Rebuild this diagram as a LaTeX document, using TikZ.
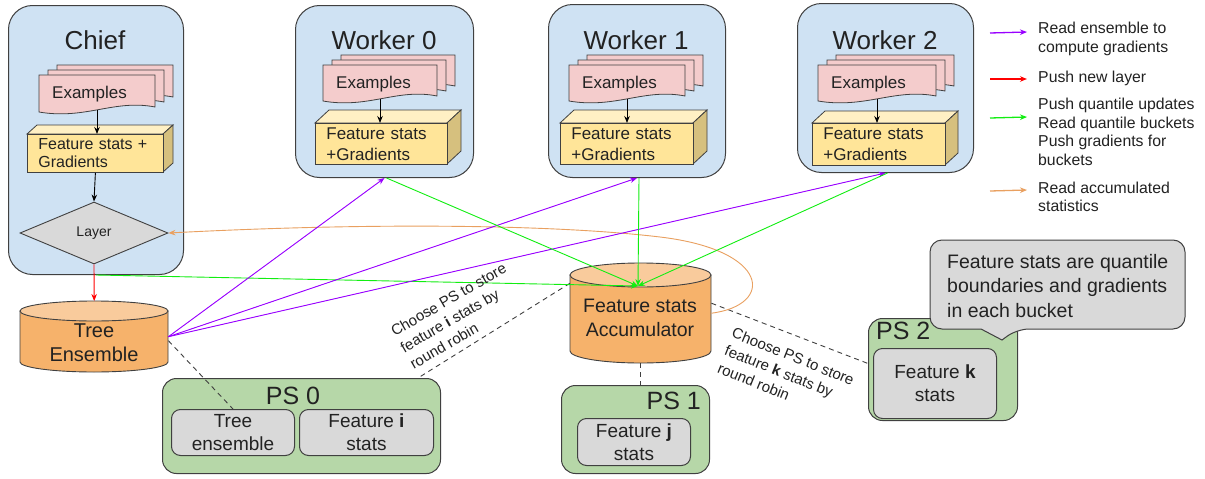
\documentclass[tikz,border=0pt]{standalone}
\usepackage{fontspec}
\setmainfont{Liberation Sans}
\usetikzlibrary{arrows.meta,calc,shapes.geometric}

\definecolor{boxblue}{HTML}{CFE2F3}
\definecolor{docpink}{HTML}{F4CCCC}
\definecolor{cubfrontc}{HTML}{FFE599}
\definecolor{cubtopc}{HTML}{FFF0C4}
\definecolor{cubsidec}{HTML}{D6C07E}
\definecolor{lgray}{HTML}{D9D9D9}
\definecolor{cylbodyc}{HTML}{F6B26B}
\definecolor{cyltopc}{HTML}{F9CB9C}
\definecolor{psgreen}{HTML}{B6D7A8}
\definecolor{edgegray}{HTML}{404040}
\definecolor{purp}{HTML}{9900FF}
\definecolor{redc}{HTML}{FF0000}
\definecolor{grn}{HTML}{11EE11}
\definecolor{orng}{HTML}{E9A060}
\definecolor{txt}{HTML}{222222}

\tikzset{
  bluebox/.style={draw=edgegray, line width=1pt, fill=boxblue, rounded corners=24pt, anchor=north west, inner sep=0pt},
  greenbox/.style={draw=edgegray, line width=1pt, fill=psgreen, rounded corners=14pt, anchor=north west, inner sep=0pt},
  graybox/.style={draw=edgegray, line width=1pt, fill=lgray, rounded corners=9pt, anchor=north west, inner sep=0pt, align=center, font=\fontsize{19}{23}\selectfont, text=txt},
  titlest/.style={font=\fontsize{26}{30}\selectfont, text=txt, inner sep=0pt},
  pstitle/.style={font=\fontsize{25}{28}\selectfont, text=txt, inner sep=0pt},
  docst/.style={draw=edgegray, line width=0.8pt, fill=docpink},
  doctext/.style={font=\fontsize{17}{20}\selectfont, text=txt, inner sep=0pt},
  cubtopst/.style={draw=edgegray, line width=0.8pt, fill=cubtopc},
  cubsidest/.style={draw=edgegray, line width=0.8pt, fill=cubsidec},
  cubfrontst/.style={draw=edgegray, line width=0.8pt, fill=cubfrontc, anchor=north west, inner xsep=11pt, inner ysep=0pt, align=left, text=txt},
  cylbodyst/.style={draw=edgegray, line width=0.9pt, fill=cylbodyc},
  cyltopst/.style={draw=edgegray, line width=0.9pt, fill=cyltopc},
  bigtext/.style={font=\fontsize{20}{24}\selectfont, text=txt, align=center, inner sep=0pt},
  lbl/.style={font=\fontsize{15}{19}\selectfont, text=txt, align=left, inner sep=0pt},
  legtext/.style={font=\fontsize{15.8}{18.6}\selectfont, text=txt, align=left, inner sep=0pt, anchor=west},
  arr/.style={-{Stealth[length=7pt,width=5.5pt]}, line width=0.9pt},
  blkarr/.style={arr, draw=black},
  purparr/.style={arr, draw=purp, fill=purp},
  redarr/.style={arr, draw=redc},
  grnarr/.style={arr, draw=grn},
  orngarr/.style={arr, draw=orng},
  legline/.style={line width=1.3pt},
  dashline/.style={draw=edgegray, line width=0.9pt, dash pattern=on 5pt off 4pt},
}

\newcommand{\onedoc}[4]{%
  \filldraw[docst] (#1,#2) -- (#1+#3,#2) -- (#1+#3,#2+#4-5) .. controls (#1+0.65*#3,#2+#4-13) and (#1+0.4*#3,#2+#4+8) .. (#1,#2+#4) -- cycle;}
\newcommand{\docstack}[5]{%
  \onedoc{#2+18}{#3-10}{#4}{#5}
  \onedoc{#2+9}{#3-5}{#4}{#5}
  \onedoc{#2}{#3}{#4}{#5}
  \node[doctext, anchor=west] (#1) at (#2+13,#3+#5/2+1) {Examples};
  \coordinate (#1b) at (#2+#4/2,#3+#5-2);}
\newcommand{\cuboid}[9]{%
  \filldraw[cubtopst] (#2,#3) -- (#2+#6,#3-#7) -- (#2+#4+#6,#3-#7) -- (#2+#4,#3) -- cycle;
  \filldraw[cubsidest] (#2+#4,#3) -- (#2+#4+#6,#3-#7) -- (#2+#4+#6,#3+#5-#7) -- (#2+#4,#3+#5) -- cycle;
  \pgfmathsetmacro\cubtw{#4-22}
  \node[cubfrontst, font={#8}, minimum width=#4pt, minimum height=#5pt, text width=\cubtw pt] (#1) at (#2,#3) {#9};}
\newcommand{\cyl}[5]{%
  \pgfmathsetmacro\cylcx{(#1+#3)/2}
  \pgfmathsetmacro\cylrx{(#3-#1)/2}
  \pgfmathsetmacro\cylct{#2+#5}
  \pgfmathsetmacro\cylcb{#4-#5}
  \filldraw[cylbodyst] (#1,\cylct) -- (#1,\cylcb) .. controls (#1,\cylcb+0.5523*#5) and (\cylcx-0.5523*\cylrx,#4) .. (\cylcx,#4) .. controls (\cylcx+0.5523*\cylrx,#4) and (#3,\cylcb+0.5523*#5) .. (#3,\cylcb) -- (#3,\cylct) -- cycle;
  \filldraw[cyltopst] (\cylcx,\cylct) ellipse [x radius=\cylrx pt, y radius=#5pt];}

\begin{document}
\begin{tikzpicture}[x=1pt,y=-1pt]
\fill[white] (0,0) rectangle (1205,479);
\useasboundingbox (0,0) rectangle (1205,479);

% ---------- Chief ----------
\node[bluebox, minimum width=175pt, minimum height=269pt] (chief) at (8,5) {};
\node[titlest] (chieft) at (95,40) {Chief};
\docstack{ex0}{39}{75}{116}{37}
\cuboid{cub0}{27}{134}{136}{38}{10}{9}{\fontsize{16}{18}\selectfont}{Feature stats +\\Gradients}
\node[diamond, draw=edgegray, fill=lgray, line width=0.9pt, minimum width=148pt, minimum height=62pt, inner sep=0pt, aspect=2.4, font=\fontsize{14}{16}\selectfont, text=txt] (layer) at (94,233) {Layer};

% ---------- Workers ----------
\node[bluebox, minimum width=178pt, minimum height=172pt] (w0) at (295,5) {};
\node[titlest] (w0t) at (384,40) {Worker 0};
\docstack{ex1}{323}{65}{114}{36}
\cuboid{cub1}{315}{123}{132}{41}{14}{13}{\fontsize{17}{21}\selectfont}{Feature stats\\+Gradients}

\node[bluebox, minimum width=177pt, minimum height=173pt] (w1) at (548,4) {};
\node[titlest] (w1t) at (636,40) {Worker 1};
\docstack{ex2}{569}{65}{116}{36}
\cuboid{cub2}{560}{123}{133}{41}{14}{13}{\fontsize{17}{21}\selectfont}{Feature stats\\+Gradients}

\node[bluebox, minimum width=176pt, minimum height=169pt] (w2) at (797,3) {};
\node[titlest] (w2t) at (885,40) {Worker 2};
\docstack{ex3}{818}{65}{118}{36}
\cuboid{cub3}{812}{123}{133}{42}{13}{12}{\fontsize{17}{21}\selectfont}{Feature stats\\+Gradients}

% ---------- Cylinders ----------
\node[anchor=north west, minimum width=148pt, minimum height=71pt, inner sep=0pt] (tree) at (20,301) {};
\cyl{20}{301}{168}{372}{10}
\node[bigtext] (treet) at (94,343) {Tree\\Ensemble};

\node[anchor=north west, minimum width=141pt, minimum height=100pt, inner sep=0pt] (acc) at (570,263) {};
\cyl{570}{263}{711}{363}{12}
\node[bigtext, font=\fontsize{19.5}{23.5}\selectfont] (acct) at (640,318) {Feature stats\\Accumulator};
\coordinate (acci) at (638,286);

% ---------- PS boxes ----------
\node[greenbox, minimum width=278pt, minimum height=95pt] (ps0) at (162,378) {};
\node[pstitle] (ps0t) at (293,396) {PS 0};
\node[graybox, minimum width=123pt, minimum height=46pt] (tein) at (171,409) {Tree\\ensemble};
\node[graybox, minimum width=134pt, minimum height=46pt] (fi) at (299,409) {Feature \textbf{i}\\stats};

\node[greenbox, minimum width=148pt, minimum height=88pt] (ps1) at (561,385) {};
\node[pstitle, anchor=east] (ps1t) at (701,401) {PS 1};
\node[graybox, minimum width=113pt, minimum height=47pt] (fj) at (577,418) {Feature \textbf{j}\\stats};

\node[greenbox, minimum width=149pt, minimum height=102pt] (ps2) at (868,318) {};
\node[pstitle, anchor=west] (ps2t) at (876,331) {PS 2};
\node[graybox, minimum width=123pt, minimum height=70pt] (fk) at (873,348) {Feature \textbf{k}\\stats};

% ---------- Callout ----------
\filldraw[draw=edgegray, line width=1pt, fill=lgray, rounded corners=12pt] (930,285) -- (930,240) -- (1185,240) -- (1185,329) -- (1017,329) [sharp corners] -- (1002,340) -- (981,329) [rounded corners=12pt] -- (930,329) -- cycle;
\node[font=\fontsize{19.5}{24.5}\selectfont, text=txt, align=left, inner sep=0pt, anchor=west] (note) at (947,286) {Feature stats are quantile\\boundaries and gradients\\in each bucket};

% ---------- Internal arrows ----------
\draw[blkarr] (ex0b) -- (ex0b |- cub0.north);
\draw[blkarr] (cub0.south) -- (layer.north);
\draw[blkarr] (ex1b) -- (ex1b |- cub1.north);
\draw[blkarr] (ex2b) -- (ex2b |- cub2.north);
\draw[blkarr] (ex3b) -- (ex3b |- cub3.north);

% ---------- Dashed links ----------
\draw[dashline] ([yshift=-4pt]tree.east) -- (tein.north);
\draw[dashline] ([yshift=30pt]acc.west) -- ([xshift=-23pt]ps0.north east);
\draw[dashline] (acc.south) -- (acc.south |- ps1.north);
\draw[dashline] ([yshift=10pt]acc.east) -- ([yshift=6pt]ps2.west);

% ---------- Connectors ----------
\draw[redarr] (layer.south) -- (tree.north);
\draw[orngarr] (acc.east) .. controls (775,305) and (770,250) .. (660,237) .. controls (560,225) and (380,222) .. (layer.east);
\draw[grnarr] (chief.south) -- (acci);
\draw[purparr] (tree.east) -- (w0.south);
\draw[purparr] (tree.east) -- (w1.south);
\draw[purparr] (tree.east) -- (w2.south);
\draw[grnarr] ([xshift=2pt]w0.south) -- (acci);
\draw[grnarr] ([xshift=2pt]w1.south) -- (acci);
\draw[grnarr] ([xshift=2pt]w2.south) -- (acci);

% ---------- Labels ----------
\node[lbl, rotate=30] (lab1) at (458,316) {Choose PS to store\\feature \textbf{i} stats by\\round robin};
\node[lbl, rotate=-22] (lab2) at (786,374) {Choose PS to store\\feature \textbf{k} stats by\\round robin};

% ---------- Legend ----------
\coordinate (lg1a) at (990,33); \coordinate (lg1b) at (1027,32);
\coordinate (lg2a) at (990,79); \coordinate (lg2b) at (1027,79);
\coordinate (lg3a) at (990,118); \coordinate (lg3b) at (1027,117);
\coordinate (lg4a) at (990,191); \coordinate (lg4b) at (1027,190);
\draw[purparr, legline] (lg1a) -- (lg1b);
\draw[redarr, legline] (lg2a) -- (lg2b);
\draw[grnarr, legline] (lg3a) -- (lg3b);
\draw[orngarr, legline] (lg4a) -- (lg4b);
\node[legtext] (lgt1) at (1038,39) {Read ensemble to\\compute gradients};
\node[legtext] (lgt2) at (1038,78) {Push new layer};
\node[legtext] (lgt3) at (1038,132) {Push quantile updates\\Read quantile buckets\\Push gradients for\\buckets};
\node[legtext] (lgt4) at (1038,197) {Read accumulated\\statistics};
\end{tikzpicture}
\end{document}
